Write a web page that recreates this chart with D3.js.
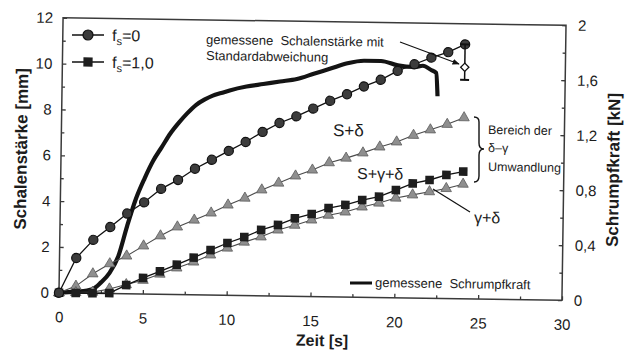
<html>
<head>
  <style>
  body {
    margin: 0;
    background: #fff;
  }
  text {
    font-family: "Liberation Sans", Arial, sans-serif;
    fill: #1c1c1c;
  }
  .axis line {
    stroke: #3a3a3a;
    stroke-width: 1.3;
  }
  .axis path {
    display: none;
  }
  </style>
</head>
<body>
  <div id="elm"></div>

  <script src="https://cdn.jsdelivr.net/npm/d3@7/dist/d3.min.js"></script>
  <script>

  'use strict';

  // computed shell thickness [mm] at t = 0..24 s
  var time = [0, 1, 2, 3, 4, 5, 6, 7, 8, 9, 10, 11, 12, 13, 14, 15, 16, 17, 18, 19, 20, 21, 22, 23, 24];
  var fs0 = [0, 1.53, 2.33, 2.9, 3.5, 4.0, 4.6, 5.0, 5.5, 5.9, 6.3, 6.7, 7.15, 7.55, 7.85, 8.2, 8.55, 8.85, 9.2, 9.5, 9.9, 10.2, 10.5, 10.75, 11.1];
  var fs1 = [0, 0, 0, 0.02, 0.38, 0.7, 1.0, 1.3, 1.62, 1.96, 2.28, 2.55, 2.87, 3.1, 3.4, 3.6, 3.87, 4.02, 4.24, 4.4, 4.7, 5.0, 5.16, 5.39, 5.55];
  var triUpper = [0, 0.3, 0.85, 1.3, 1.65, 2.1, 2.55, 2.95, 3.26, 3.58, 3.94, 4.25, 4.62, 4.93, 5.25, 5.52, 5.85, 6.06, 6.3, 6.57, 6.8, 7.1, 7.35, 7.6, 7.9];
  var triLower = [0, 0.02, 0.05, 0.2, 0.4, 0.6, 0.88, 1.16, 1.43, 1.75, 2.06, 2.33, 2.57, 2.88, 3.1, 3.34, 3.56, 3.71, 3.94, 4.12, 4.35, 4.5, 4.65, 4.8, 5.0];

  // measured shrink force [kN]
  var forceTime = [0, 1, 2, 2.5, 3, 3.5, 4, 4.5, 5, 5.5, 6, 6.5, 7, 7.5, 8, 8.5, 9, 9.5, 10, 11, 12, 13, 14, 15, 16, 17, 18, 19, 20, 21, 21.5, 22, 22.3, 22.4];
  var force = [0, 0.01, 0.03, 0.08, 0.15, 0.27, 0.49, 0.69, 0.84, 0.97, 1.07, 1.17, 1.25, 1.32, 1.38, 1.42, 1.45, 1.47, 1.49, 1.52, 1.54, 1.56, 1.58, 1.62, 1.66, 1.7, 1.72, 1.72, 1.69, 1.68, 1.69, 1.66, 1.64, 1.47];

  // measured shell thickness with standard deviation
  var measTime = [24];
  var measMean = [10.1];
  var measLow = [9.55];
  var measHigh = [11.1];

  var xTicks = [0, 5, 10, 15, 20, 25, 30];
  var xMinor = [2.5, 7.5, 12.5, 17.5, 22.5, 27.5];
  var yTicks = [0, 2, 4, 6, 8, 10, 12];
  var yMinor = [1, 3, 5, 7, 9, 11];
  var kNTicks = [0, 0.4, 0.8, 1.2, 1.6, 2];
  var kNLabels = ['0', '0,4', '0,8', '1,2', '1,6', '2'];
  var kNMinor = [0.2, 0.6, 1.0, 1.4, 1.8];

  var width = 627,
      height = 351;

  // the scan is turned slightly clockwise
  var angle = 0.85, cx = 312, cy = 159;
  var rad = angle * Math.PI / 180;
  function at(px, py) {
    var dx = px - cx, dy = py - cy;
    return [cx + dx * Math.cos(rad) + dy * Math.sin(rad), cy - dx * Math.sin(rad) + dy * Math.cos(rad)];
  }

  var svg = d3.select('#elm').append('svg').attr('width', width).attr('height', height);
  var g = svg.append('g').attr('transform', 'rotate(' + angle + ',' + cx + ',' + cy + ')');

  var x = d3.scaleLinear().domain([0, 30]).range([61, 564]);
  var y = d3.scaleLinear().domain([0, 12]).range([296.5, 21.5]);
  var yR = d3.scaleLinear().domain([0, 2]).range([296.5, 21.5]);

  // frame
  g.append('rect').attr('x', 61).attr('y', 21.5).attr('width', 503).attr('height', 275)
    .attr('fill', 'none').attr('stroke', '#3a3a3a').attr('stroke-width', 1.5);

  function styleTicks(sel) {
    sel.selectAll('text').attr('font-size', 15).attr('font-family', '"Liberation Sans", Arial, sans-serif').attr('fill', '#1c1c1c');
  }

  g.append('g').attr('class', 'axis').attr('transform', 'translate(0,296.5)')
    .call(d3.axisBottom(x).tickValues(xTicks).tickSizeInner(-4).tickSizeOuter(0).tickPadding(19))
    .call(styleTicks);
  g.append('g').attr('class', 'axis').attr('transform', 'translate(0,296.5)')
    .call(d3.axisBottom(x).tickValues(xMinor).tickSizeInner(-3).tickSizeOuter(0).tickFormat(''));

  g.append('g').attr('class', 'axis').attr('transform', 'translate(61,0)')
    .call(d3.axisLeft(y).tickValues(yTicks).tickSizeInner(-4).tickSizeOuter(0).tickPadding(10))
    .call(styleTicks);
  g.append('g').attr('class', 'axis').attr('transform', 'translate(61,0)')
    .call(d3.axisLeft(y).tickValues(yMinor).tickSizeInner(-3).tickSizeOuter(0).tickFormat(''));

  g.append('g').attr('class', 'axis').attr('transform', 'translate(564,0)')
    .call(d3.axisRight(yR).tickValues(kNTicks).tickSizeInner(-4).tickSizeOuter(0).tickPadding(12)
      .tickFormat(function(d, i) { return kNLabels[i]; }))
    .call(styleTicks);
  g.append('g').attr('class', 'axis').attr('transform', 'translate(564,0)')
    .call(d3.axisRight(yR).tickValues(kNMinor).tickSizeInner(-3).tickSizeOuter(0).tickFormat(''));

  // axis titles
  var p = at(322, 346);
  g.append('text').attr('x', p[0]).attr('y', p[1]).attr('text-anchor', 'middle')
    .attr('font-size', 16).attr('font-weight', 'bold').text('Zeit [s]');
  p = at(27, 149);
  g.append('text').attr('transform', 'translate(' + p[0] + ',' + p[1] + ') rotate(-90)').attr('text-anchor', 'middle')
    .attr('font-size', 17).attr('font-weight', 'bold').text('Schalenstärke [mm]');
  p = at(619, 170);
  g.append('text').attr('transform', 'translate(' + p[0] + ',' + p[1] + ') rotate(-90)').attr('text-anchor', 'middle')
    .attr('font-size', 17).attr('font-weight', 'bold').text('Schrumpfkraft [kN]');

  // measured shrink force
  var forcePts = forceTime.map(function(t, i) { return [x(t), yR(force[i])]; });
  g.append('path').attr('d', d3.line().curve(d3.curveMonotoneX)(forcePts))
    .attr('fill', 'none').attr('stroke', '#141414').attr('stroke-width', 4.2).attr('stroke-linejoin', 'round');

  function series(vals, stroke, sw) {
    var pts = time.map(function(t, i) { return [x(t), y(vals[i])]; });
    g.append('path').attr('d', d3.line()(pts)).attr('fill', 'none').attr('stroke', stroke).attr('stroke-width', sw);
    return pts;
  }

  var tri = d3.symbol().type(d3.symbolTriangle).size(48);
  [triUpper, triLower].forEach(function(vals) {
    var pts = series(vals, '#4a4a4a', 1.1);
    g.selectAll(null).data(pts).enter().append('path')
      .attr('transform', function(d) { return 'translate(' + d[0] + ',' + d[1] + ')'; })
      .attr('d', tri).attr('fill', '#8f8f8f').attr('stroke', '#5c5c5c').attr('stroke-width', 0.8);
  });

  var sqPts = series(fs1, '#111', 1.3);
  g.selectAll(null).data(sqPts).enter().append('rect')
    .attr('x', function(d) { return d[0] - 4.3; }).attr('y', function(d) { return d[1] - 4.3; })
    .attr('width', 8.6).attr('height', 8.6).attr('fill', '#1e1e1e');

  var cPts = series(fs0, '#111', 1.3);
  g.selectAll(null).data(cPts).enter().append('circle')
    .attr('cx', function(d) { return d[0]; }).attr('cy', function(d) { return d[1]; })
    .attr('r', 4.6).attr('fill', '#3c3c3c').attr('stroke', '#111').attr('stroke-width', 1.2);

  // measured thickness with deviation
  measTime.forEach(function(t, i) {
    var xm = x(t);
    g.append('line').attr('x1', xm).attr('x2', xm).attr('y1', y(measLow[i])).attr('y2', y(measHigh[i]))
      .attr('stroke', '#111').attr('stroke-width', 1.5);
    [measLow[i], measHigh[i]].forEach(function(v) {
      g.append('line').attr('x1', xm - 4.5).attr('x2', xm + 4.5).attr('y1', y(v)).attr('y2', y(v))
        .attr('stroke', '#111').attr('stroke-width', 2);
    });
    g.append('path').attr('transform', 'translate(' + xm + ',' + y(measMean[i]) + ') rotate(45)')
      .attr('d', d3.symbol().type(d3.symbolSquare).size(34)()).attr('fill', '#fff').attr('stroke', '#111').attr('stroke-width', 1.3);
  });

  // legend top left
  var l1 = at(72, 35), l2 = at(104, 35), m = at(88, 35);
  g.append('line').attr('x1', l1[0]).attr('y1', l1[1]).attr('x2', l2[0]).attr('y2', l2[1]).attr('stroke', '#111').attr('stroke-width', 1.6);
  g.append('circle').attr('cx', m[0]).attr('cy', m[1]).attr('r', 5).attr('fill', '#3c3c3c').attr('stroke', '#111').attr('stroke-width', 1.2);
  p = at(112, 41);
  var t1 = g.append('text').attr('x', p[0]).attr('y', p[1]).attr('font-size', 16);
  t1.append('tspan').text('f');
  t1.append('tspan').attr('dy', 4).attr('font-size', 11).text('s');
  t1.append('tspan').attr('dy', -4).text('=0');

  l1 = at(72, 62); l2 = at(104, 62); m = at(88, 62);
  g.append('line').attr('x1', l1[0]).attr('y1', l1[1]).attr('x2', l2[0]).attr('y2', l2[1]).attr('stroke', '#111').attr('stroke-width', 1.6);
  g.append('rect').attr('x', m[0] - 4.6).attr('y', m[1] - 4.6).attr('width', 9.2).attr('height', 9.2).attr('fill', '#1e1e1e');
  p = at(112, 68);
  var t2 = g.append('text').attr('x', p[0]).attr('y', p[1]).attr('font-size', 16);
  t2.append('tspan').text('f');
  t2.append('tspan').attr('dy', 4).attr('font-size', 11).text('s');
  t2.append('tspan').attr('dy', -4).text('=1,0');

  // annotation for the measured thickness
  p = at(206, 44);
  g.append('text').attr('x', p[0]).attr('y', p[1]).attr('font-size', 13).attr('fill', '#2a2a2a').attr('xml:space', 'preserve')
    .text('gemessene  Schalenstärke mit');
  p = at(206, 60);
  g.append('text').attr('x', p[0]).attr('y', p[1]).attr('font-size', 13).attr('fill', '#2a2a2a').text('Standardabweichung');
  svg.append('defs').append('marker').attr('id', 'arr').attr('viewBox', '0 0 10 10').attr('refX', 9).attr('refY', 5)
    .attr('markerWidth', 6).attr('markerHeight', 6).attr('orient', 'auto')
    .append('path').attr('d', 'M0,1L10,5L0,9z').attr('fill', '#111');
  l1 = at(400, 42); l2 = at(459, 64);
  g.append('line').attr('x1', l1[0]).attr('y1', l1[1]).attr('x2', l2[0]).attr('y2', l2[1])
    .attr('stroke', '#111').attr('stroke-width', 1.2).attr('marker-end', 'url(#arr)');

  // curve labels
  p = at(333, 136);
  g.append('text').attr('x', p[0]).attr('y', p[1]).attr('font-size', 17).text('S+δ');
  p = at(357, 179);
  g.append('text').attr('x', p[0]).attr('y', p[1]).attr('font-size', 16).text('S+γ+δ');
  p = at(474, 223);
  g.append('text').attr('x', p[0]).attr('y', p[1]).attr('font-size', 16).attr('font-family', '"Liberation Serif", "Times New Roman", serif').text('γ+δ');
  l1 = at(433, 189); l2 = at(470, 212);
  g.append('line').attr('x1', l1[0]).attr('y1', l1[1]).attr('x2', l2[0]).attr('y2', l2[1]).attr('stroke', '#111').attr('stroke-width', 1.2);

  // brace for the delta-gamma region
  var b0 = at(474, 117), b1 = at(479, 122), b2 = at(479, 143), b3 = at(484, 149), b4 = at(479, 155), b5 = at(479, 176), b6 = at(474, 182);
  g.append('path')
    .attr('d', 'M' + b0 + 'Q' + b1[0] + ',' + b0[1] + ' ' + b1 + 'L' + b2 + 'Q' + b2[0] + ',' + b3[1] + ' ' + b3 +
      'Q' + b4[0] + ',' + b3[1] + ' ' + b4 + 'L' + b5 + 'Q' + b5[0] + ',' + b6[1] + ' ' + b6)
    .attr('fill', 'none').attr('stroke', '#111').attr('stroke-width', 1.4);
  p = at(488, 134);
  g.append('text').attr('x', p[0]).attr('y', p[1]).attr('font-size', 12.5).text('Bereich der');
  p = at(488, 152);
  g.append('text').attr('x', p[0]).attr('y', p[1]).attr('font-size', 12.5).text('δ–γ');
  p = at(488, 171);
  g.append('text').attr('x', p[0]).attr('y', p[1]).attr('font-size', 12.5).text('Umwandlung');

  // legend bottom
  l1 = at(350, 283); l2 = at(372, 283);
  g.append('line').attr('x1', l1[0]).attr('y1', l1[1]).attr('x2', l2[0]).attr('y2', l2[1]).attr('stroke', '#111').attr('stroke-width', 3);
  p = at(375, 287);
  g.append('text').attr('x', p[0]).attr('y', p[1]).attr('font-size', 13).attr('fill', '#2a2a2a').attr('xml:space', 'preserve')
    .text('gemessene  Schrumpfkraft');

  </script>
</body>
</html>
